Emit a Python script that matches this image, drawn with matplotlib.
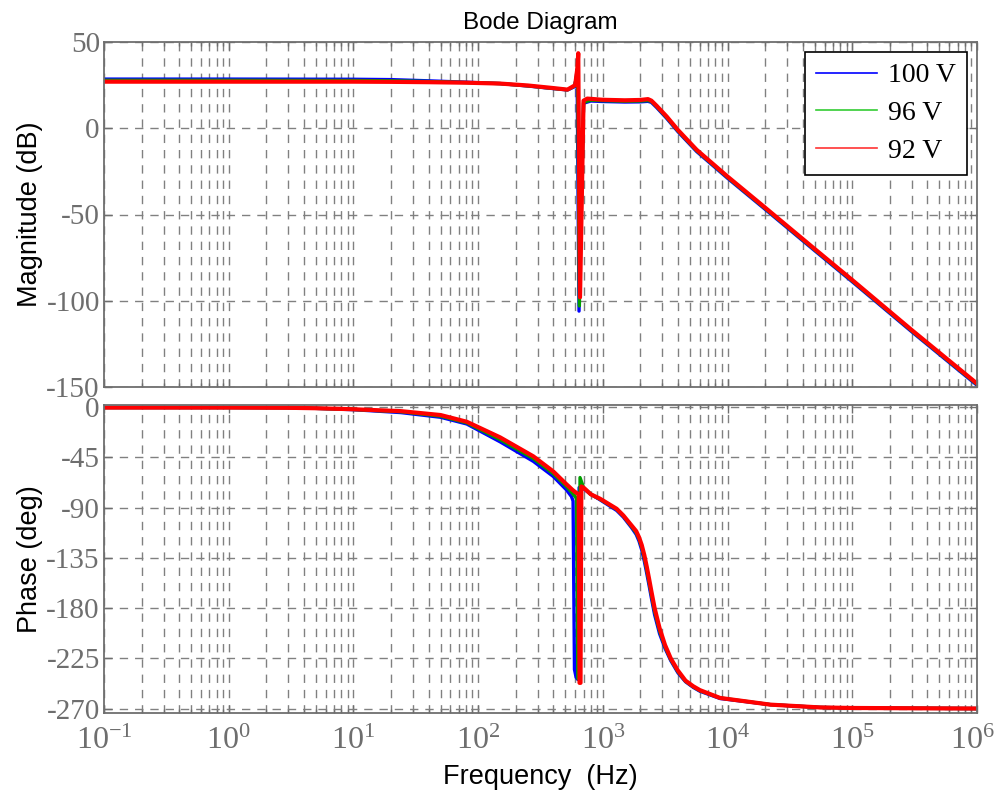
import matplotlib
matplotlib.use("Agg")
import matplotlib.pyplot as plt
from matplotlib.lines import Line2D
from matplotlib.ticker import LogLocator, FixedLocator, NullFormatter
from matplotlib.transforms import ScaledTranslation

# ---------------- data ----------------
series_labels = ["100 V", "96 V", "92 V"]
series_colors = ["#0000ff", "#00a000", "#ff0000"]
legend_colors = ["#0000ff", "#33cc33", "#ff3333"]

# Magnitude (dB)
f_mag_100 = [0.1, 1, 10, 20, 40, 80, 150, 250, 400, 520, 590, 612, 621, 644, 700, 800,
             1000, 1500, 2000, 2300, 2450, 2700, 3250, 4000, 5650, 10000, 20000, 50000,
             100000, 300000, 1000000]
mag_100 = [28.5, 28.5, 28.4, 28.2, 27.5, 26.7, 25.9, 24.5, 23.0, 22.2, 24.0, 29.0, 34.0,
           -106.0, 14.5, 15.8, 15.5, 15.2, 15.3, 15.6, 15.0, 12.0, 5.7, -2.0, -13.5, -29.0,
           -47.0, -71.0, -89.0, -118.0, -149.0]

f_mag_96 = [0.1, 1, 10, 20, 40, 80, 150, 250, 400, 520, 595, 618, 628, 648, 700, 800,
            1000, 1500, 2000, 2300, 2450, 2700, 3250, 4000, 5650, 10000, 20000, 50000,
            100000, 300000, 1000000]
mag_96 = [27.8, 27.8, 27.7, 27.5, 27.1, 26.5, 25.9, 24.6, 23.1, 22.3, 24.5, 31.0, 36.0,
          -103.0, 15.0, 16.3, 16.0, 15.7, 15.8, 16.1, 15.5, 12.5, 6.2, -1.5, -13.0, -28.5,
          -46.5, -70.5, -88.5, -117.5, -148.5]

f_mag_92 = [0.1, 1, 10, 20, 40, 80, 150, 250, 400, 520, 600, 625, 635, 656, 700, 750,
            1000, 1500, 2000, 2300, 2450, 2700, 3250, 4000, 5650, 10000, 20000, 50000,
            100000, 300000, 1000000]
mag_92 = [27.0, 27.0, 27.0, 26.9, 26.7, 26.4, 25.9, 24.8, 23.3, 22.4, 25.0, 35.0, 43.5,
          -98.0, 16.0, 17.2, 16.5, 16.2, 16.4, 16.9, 16.0, 13.0, 6.8, -1.0, -12.5, -28.0,
          -46.0, -70.0, -88.0, -117.0, -148.0]

# Phase (deg)
f_ph_100 = [0.1, 1, 3, 5, 10, 24, 50, 81, 150, 277, 400, 510, 560, 577, 592, 610, 630,
            645, 700, 800, 950, 1290, 1460, 1700, 1850, 1950, 2050, 2150, 2250, 2350,
            2450, 2600, 2850, 3150, 3500, 4000, 4600, 5300, 6000, 8700, 22000, 55000,
            100000, 1000000]
ph_100 = [-0.3, -0.3, -0.5, -1.0, -2.2, -4.8, -9.0, -15.0, -31.0, -48.5, -62.0, -74.0,
          -80.0, -84.0, -235.0, -242.0, -244.0, -72.0, -73.0, -78.0, -83.0, -92.5, -98.5,
          -108.0, -114.0, -120.0, -128.0, -138.0, -149.0, -160.0, -171.0, -186.0, -203.0,
          -216.0, -227.0, -238.0, -246.0, -251.0, -254.5, -261.0, -266.5, -269.0, -269.5,
          -270.0]

f_ph_96 = [0.1, 1, 3, 5, 10, 24, 50, 81, 150, 277, 400, 510, 570, 600, 615, 630, 645,
           656, 700, 800, 950, 1290, 1460, 1700, 1850, 1950, 2050, 2150, 2250, 2350,
           2450, 2600, 2850, 3150, 3500, 4000, 4600, 5300, 6000, 8700, 22000, 55000,
           100000, 1000000]
ph_96 = [-0.3, -0.3, -0.5, -1.0, -2.0, -4.0, -8.0, -14.0, -29.0, -46.0, -59.5, -71.0,
         -77.0, -80.0, -82.0, -243.0, -244.0, -63.0, -72.0, -78.0, -82.5, -91.5, -97.5,
         -107.0, -112.5, -118.0, -125.5, -135.0, -146.0, -157.0, -168.0, -183.0, -200.5,
         -214.5, -226.0, -237.0, -245.5, -250.5, -254.0, -260.5, -266.5, -269.0, -269.5,
         -270.0]

f_ph_92 = [0.1, 1, 3, 5, 10, 24, 50, 81, 150, 277, 400, 510, 570, 600, 640, 650, 662,
           672, 700, 800, 950, 1290, 1460, 1700, 1850, 1950, 2050, 2150, 2250, 2350,
           2450, 2600, 2850, 3150, 3500, 4000, 4600, 5300, 6000, 8700, 22000, 55000,
           100000, 1000000]
ph_92 = [-0.3, -0.3, -0.5, -0.9, -1.8, -3.5, -7.0, -13.0, -27.0, -44.0, -57.5, -69.0,
         -74.0, -76.0, -78.0, -247.0, -247.0, -71.0, -72.0, -78.0, -82.0, -91.0, -97.0,
         -106.0, -111.0, -116.5, -123.5, -132.5, -143.0, -154.0, -165.0, -180.0, -198.0,
         -213.0, -225.0, -236.0, -245.0, -250.0, -253.5, -260.5, -266.5, -269.0, -269.5,
         -270.0]

mag_ticks = [50, 0, -50, -100, -150]
phase_ticks = [0, -45, -90, -135, -180, -225, -270]
x_decades = [1e-1, 1e0, 1e1, 1e2, 1e3, 1e4, 1e5, 1e6]
x_tick_labels = [r"$\mathregular{10^{-1}}$", r"$\mathregular{10^{0}}$",
                 r"$\mathregular{10^{1}}$", r"$\mathregular{10^{2}}$",
                 r"$\mathregular{10^{3}}$", r"$\mathregular{10^{4}}$",
                 r"$\mathregular{10^{5}}$", r"$\mathregular{10^{6}}$"]

# ---------------- style ----------------
plt.rcParams["mathtext.fontset"] = "custom"
plt.rcParams["mathtext.rm"] = "Liberation Serif"
plt.rcParams["mathtext.it"] = "Liberation Serif:italic"
plt.rcParams["mathtext.bf"] = "Liberation Serif:bold"

GRAY = "#6e6e6e"
GRID = "#808080"
SERIF = "Liberation Serif"
SANS = "Liberation Sans"

fig = plt.figure(figsize=(9.95, 7.96), dpi=100)
W, H = 995, 796
L, R = 104, 977
ax1 = fig.add_axes([L / W, 1 - 387 / H, (R - L) / W, 345 / H])
ax2 = fig.add_axes([L / W, 1 - 713 / H, (R - L) / W, 308 / H])

mag_f = [f_mag_100, f_mag_96, f_mag_92]
mag_v = [mag_100, mag_96, mag_92]
ph_f = [f_ph_100, f_ph_96, f_ph_92]
ph_v = [ph_100, ph_96, ph_92]
widths = [2.4, 2.4, 3.0]

for fx, v, c, lw in zip(mag_f, mag_v, series_colors, widths):
    ax1.plot(fx, v, color=c, lw=lw, solid_joinstyle="round")
for fx, v, c, lw in zip(ph_f, ph_v, series_colors, widths):
    ax2.plot(fx, v, color=c, lw=lw, solid_joinstyle="round")

for ax in (ax1, ax2):
    ax.set_xscale("log")
    ax.set_xlim(1e-1, 1e6)
    ax.xaxis.set_major_locator(FixedLocator(x_decades))
    ax.xaxis.set_minor_locator(LogLocator(base=10, subs=range(2, 10), numticks=50))
    ax.xaxis.set_minor_formatter(NullFormatter())
    ax.grid(True, which="major", axis="both", color=GRID, linestyle=(0, (6, 5)), lw=1.0)
    ax.grid(True, which="minor", axis="x", color=GRID, linestyle=(0, (6, 5)), lw=1.0)
    ax.tick_params(which="both", direction="in", top=True, right=True, colors=GRAY)
    ax.tick_params(which="major", length=6, width=1)
    ax.tick_params(which="minor", length=3, width=1)
    for s in ax.spines.values():
        s.set_color(GRAY)
        s.set_linewidth(1.3)
    ax.set_axisbelow(True)

ax1.set_ylim(-150, 50)
ax1.set_yticks(mag_ticks)
ax1.set_yticklabels([str(t) for t in mag_ticks], fontfamily=SERIF, fontsize=21, color=GRAY)
ax1.tick_params(axis="x", labelbottom=False)

ax2.set_ylim(-274, 2)
ax2.set_yticks(phase_ticks)
ax2.set_yticklabels([str(t) for t in phase_ticks], fontfamily=SERIF, fontsize=21, color=GRAY)
ax2.set_xticks(x_decades)
ax2.set_xticklabels(x_tick_labels, fontfamily=SERIF, fontsize=23, color=GRAY)
ax2.tick_params(axis="x", pad=10)
ax1.tick_params(axis="y", pad=3)
ax2.tick_params(axis="y", pad=3)

# keep the last decade label inside the figure, like the reference
last = ax2.get_xticklabels()[-1]
last.set_horizontalalignment("right")
last.set_transform(last.get_transform() + ScaledTranslation(18 / 100, 0, fig.dpi_scale_trans))

ax1.set_title("Bode Diagram", fontfamily=SANS, fontsize=17.5, pad=9)
ax1.set_ylabel("Magnitude (dB)", fontfamily=SANS, fontsize=19.5)
ax2.set_ylabel("Phase (deg)", fontfamily=SANS, fontsize=19.5)
ax2.set_xlabel("Frequency  (Hz)", fontfamily=SANS, fontsize=19.5)
ax1.yaxis.set_label_coords(-0.07, 0.5)
ax2.yaxis.set_label_coords(-0.07, 0.5)
ax2.xaxis.set_label_coords(0.5, -0.165)

handles = [Line2D([0], [0], color=c, lw=1.2) for c in legend_colors]
leg = ax1.legend(handles, series_labels, loc="upper right",
                 prop={"family": SERIF, "size": 20}, frameon=True, fancybox=False,
                 edgecolor="black", framealpha=1, borderaxespad=0.35,
                 handlelength=2.2, handletextpad=0.4, labelspacing=0.45,
                 borderpad=0.4)
leg.get_frame().set_linewidth(1.2)

fig.savefig("out.png", dpi=100)
